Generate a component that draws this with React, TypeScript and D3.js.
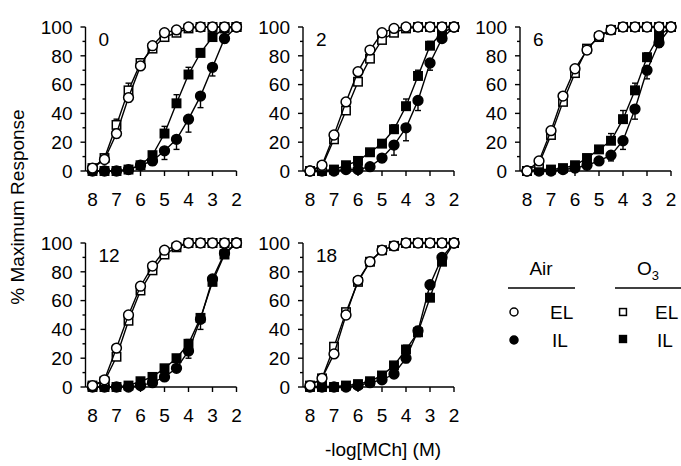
import React from "react";
import * as d3 from "d3";

// -log[MCh] doses, same for every series
const doses = [8, 7.5, 7, 6.5, 6, 5.5, 5, 4.5, 4, 3.5, 3, 2.5, 2];
const xTicks = [8, 7, 6, 5, 4, 3, 2];
const yTicks = [0, 20, 40, 60, 80, 100];
const panelLabels = ["0", "2", "6", "12", "18"];

// one row per panel
const airEL = [
  [2, 8, 26, 51, 73, 87, 96, 98, 100, 100, 100, 100, 100],
  [0, 4, 25, 48, 69, 84, 96, 99, 100, 100, 100, 100, 100],
  [0, 7, 28, 52, 71, 84, 94, 98, 100, 100, 100, 100, 100],
  [1, 5, 27, 50, 70, 84, 95, 98, 100, 100, 100, 100, 100],
  [1, 6, 23, 50, 74, 87, 95, 98, 100, 100, 100, 100, 100],
];
const o3EL = [
  [2, 9, 32, 56, 75, 85, 93, 96, 99, 100, 100, 100, 100],
  [0, 3, 22, 42, 62, 78, 91, 96, 99, 100, 100, 100, 100],
  [0, 5, 25, 48, 68, 85, 93, 98, 100, 100, 100, 100, 100],
  [1, 4, 21, 46, 67, 81, 92, 97, 100, 100, 100, 100, 100],
  [1, 6, 28, 52, 73, 87, 95, 98, 100, 100, 100, 100, 100],
];
const airIL = [
  [0, 0, 0, 1, 4, 7, 14, 22, 36, 52, 72, 92, 100],
  [0, 0, 0, 1, 1, 3, 9, 18, 30, 49, 75, 92, 100],
  [0, 0, 0, 1, 2, 4, 7, 11, 21, 43, 70, 89, 100],
  [0, 0, 0, 0, 1, 3, 7, 13, 25, 47, 75, 93, 100],
  [0, 0, 0, 0, 1, 3, 5, 9, 20, 39, 71, 90, 100],
];
const o3IL = [
  [0, 0, 0, 1, 4, 11, 26, 47, 67, 82, 93, 99, 100],
  [0, 0, 1, 4, 7, 13, 19, 29, 45, 66, 87, 96, 100],
  [0, 1, 1, 2, 4, 9, 15, 21, 36, 56, 79, 94, 100],
  [0, 0, 0, 1, 4, 7, 13, 20, 30, 48, 73, 92, 100],
  [0, 0, 0, 1, 2, 4, 8, 15, 26, 38, 62, 87, 100],
];
// SEM, one-sided (air drawn down, O3 drawn up)
const airELErr = [
  [0, 0, 3, 3, 0, 0, 0, 0, 0, 0, 0, 0, 0],
  [0, 0, 2, 2, 0, 0, 0, 0, 0, 0, 0, 0, 0],
  [0, 0, 2, 2, 0, 0, 0, 0, 0, 0, 0, 0, 0],
  [0, 0, 2, 2, 0, 0, 0, 0, 0, 0, 0, 0, 0],
  [0, 0, 2, 2, 0, 0, 0, 0, 0, 0, 0, 0, 0],
];
const o3ELErr = [
  [0, 0, 4, 5, 3, 0, 0, 0, 0, 0, 0, 0, 0],
  [0, 0, 2, 2, 2, 0, 0, 0, 0, 0, 0, 0, 0],
  [0, 0, 2, 2, 2, 2, 0, 0, 0, 0, 0, 0, 0],
  [0, 0, 2, 2, 2, 0, 0, 0, 0, 0, 0, 0, 0],
  [0, 0, 2, 2, 2, 0, 0, 0, 0, 0, 0, 0, 0],
];
const airILErr = [
  [0, 0, 0, 0, 0, 3, 6, 7, 9, 8, 6, 3, 0],
  [0, 0, 0, 0, 0, 0, 3, 7, 9, 7, 5, 0, 0],
  [0, 0, 0, 0, 0, 0, 0, 4, 6, 7, 6, 3, 0],
  [0, 0, 0, 0, 0, 0, 0, 0, 5, 7, 3, 0, 0],
  [0, 0, 0, 0, 0, 0, 0, 0, 3, 4, 3, 0, 0],
];
const o3ILErr = [
  [0, 0, 0, 0, 0, 2, 5, 6, 5, 3, 3, 0, 0],
  [0, 0, 0, 0, 0, 0, 0, 3, 5, 4, 3, 0, 0],
  [0, 0, 0, 0, 0, 0, 0, 5, 6, 5, 3, 0, 0],
  [0, 0, 0, 0, 0, 0, 0, 0, 3, 2, 0, 0, 0],
  [0, 0, 0, 0, 0, 0, 0, 0, 3, 4, 3, 0, 0],
];

const font = "'Liberation Sans', Arial, Helvetica, sans-serif";
const fs = 19;
const tick8X = [92.5, 310, 527];
const zeroY = [171, 387];

type Marker = "circle" | "square";

function Mark({ cx, cy, shape, filled, r = 4.9 }: { cx: number; cy: number; shape: Marker; filled: boolean; r?: number }) {
  const fill = filled ? "#000" : "#fff";
  if (shape === "circle")
    return <circle cx={cx} cy={cy} r={r} fill={fill} stroke="#000" strokeWidth={1.5} />;
  const s = r * 0.86;
  return <rect x={cx - s} y={cy - s} width={s * 2} height={s * 2} fill={fill} stroke="#000" strokeWidth={1.5} />;
}

function Panel({ idx }: { idx: number }) {
  const col = idx % 3;
  const row = Math.floor(idx / 3);
  const t8 = tick8X[col];
  const y0 = zeroY[row];
  const x = d3.scaleLinear().domain([8, 2]).range([t8, t8 + 144]);
  const y = d3.scaleLinear().domain([0, 100]).range([y0, y0 - 144]);
  const axisX = t8 - 7;
  const line = d3
    .line<number>()
    .x((_, i) => x(doses[i]))
    .y((d) => y(d));

  const series = [
    { vals: o3IL[idx], err: o3ILErr[idx], dir: 1, shape: "square" as Marker, filled: true },
    { vals: airIL[idx], err: airILErr[idx], dir: -1, shape: "circle" as Marker, filled: true },
    { vals: o3EL[idx], err: o3ELErr[idx], dir: 1, shape: "square" as Marker, filled: false },
    { vals: airEL[idx], err: airELErr[idx], dir: -1, shape: "circle" as Marker, filled: false },
  ];

  return (
    <g>
      {/* y axis */}
      <line x1={axisX} x2={axisX} y1={y(100)} y2={y0} stroke="#000" strokeWidth={1.4} />
      {d3.range(0, 101, 10).map((v) => (
        <line key={v} x1={axisX - (v % 20 === 0 ? 5 : 3)} x2={axisX} y1={y(v)} y2={y(v)} stroke="#000" strokeWidth={1.4} />
      ))}
      {yTicks.map((v) => (
        <text key={v} x={axisX - 13} y={y(v)} dy="0.36em" textAnchor="end" fontSize={fs} fontFamily={font}>
          {v}
        </text>
      ))}
      {/* x axis */}
      <line x1={axisX} x2={x(2)} y1={y0} y2={y0} stroke="#000" strokeWidth={1.4} />
      {xTicks.map((v) => (
        <g key={v}>
          <line x1={x(v)} x2={x(v)} y1={y0} y2={y0 + 5} stroke="#000" strokeWidth={1.4} />
          <text x={x(v)} y={y0 + 35} textAnchor="middle" fontSize={fs} fontFamily={font}>
            {v}
          </text>
        </g>
      ))}
      <text x={axisX + 13} y={y(100) + 19} fontSize={fs} fontFamily={font}>
        {panelLabels[idx]}
      </text>
      {series.map((s, si) => (
        <g key={si}>
          <path d={line(s.vals) || ""} fill="none" stroke="#000" strokeWidth={1.4} />
          {s.vals.map((v, i) =>
            s.err[i] > 0 ? (
              <g key={i}>
                <line x1={x(doses[i])} x2={x(doses[i])} y1={y(v)} y2={y(v + s.dir * s.err[i])} stroke="#000" strokeWidth={1.4} />
                <line
                  x1={x(doses[i]) - 3}
                  x2={x(doses[i]) + 3}
                  y1={y(v + s.dir * s.err[i])}
                  y2={y(v + s.dir * s.err[i])}
                  stroke="#000"
                  strokeWidth={1.4}
                />
              </g>
            ) : null
          )}
          {s.vals.map((v, i) => (
            <Mark key={i} cx={x(doses[i])} cy={y(v)} shape={s.shape} filled={s.filled} />
          ))}
        </g>
      ))}
    </g>
  );
}

function Legend() {
  return (
    <g fontFamily={font} fontSize={fs}>
      <text x={541} y={275} textAnchor="middle">Air</text>
      <line x1={508} x2={575} y1={288} y2={288} stroke="#000" strokeWidth={1.4} />
      <text x={637} y={275}>
        O<tspan fontSize={13} dy={5}>3</tspan>
      </text>
      <line x1={615} x2={681} y1={288} y2={288} stroke="#000" strokeWidth={1.4} />
      <Mark cx={514} cy={312} shape="circle" filled={false} r={4} />
      <text x={550} y={319}>EL</text>
      <Mark cx={514} cy={340} shape="circle" filled={true} r={4} />
      <text x={552} y={347}>IL</text>
      <Mark cx={623} cy={312} shape="square" filled={false} r={4} />
      <text x={655} y={319}>EL</text>
      <Mark cx={623} cy={339} shape="square" filled={true} r={4} />
      <text x={657} y={347}>IL</text>
    </g>
  );
}

export default function App() {
  return (
    <svg width={681} height={466} style={{ position: "absolute", left: 0, top: 0, background: "#fff" }}>
      <rect width={681} height={466} fill="#fff" />
      {panelLabels.map((_, i) => (
        <Panel key={i} idx={i} />
      ))}
      <Legend />
      <text x={383} y={456} textAnchor="middle" fontSize={fs} fontFamily={font}>
        -log[MCh] (M)
      </text>
      <text transform="translate(24,207) rotate(-90)" textAnchor="middle" fontSize={fs} fontFamily={font}>
        % Maximum Response
      </text>
    </svg>
  );
}
